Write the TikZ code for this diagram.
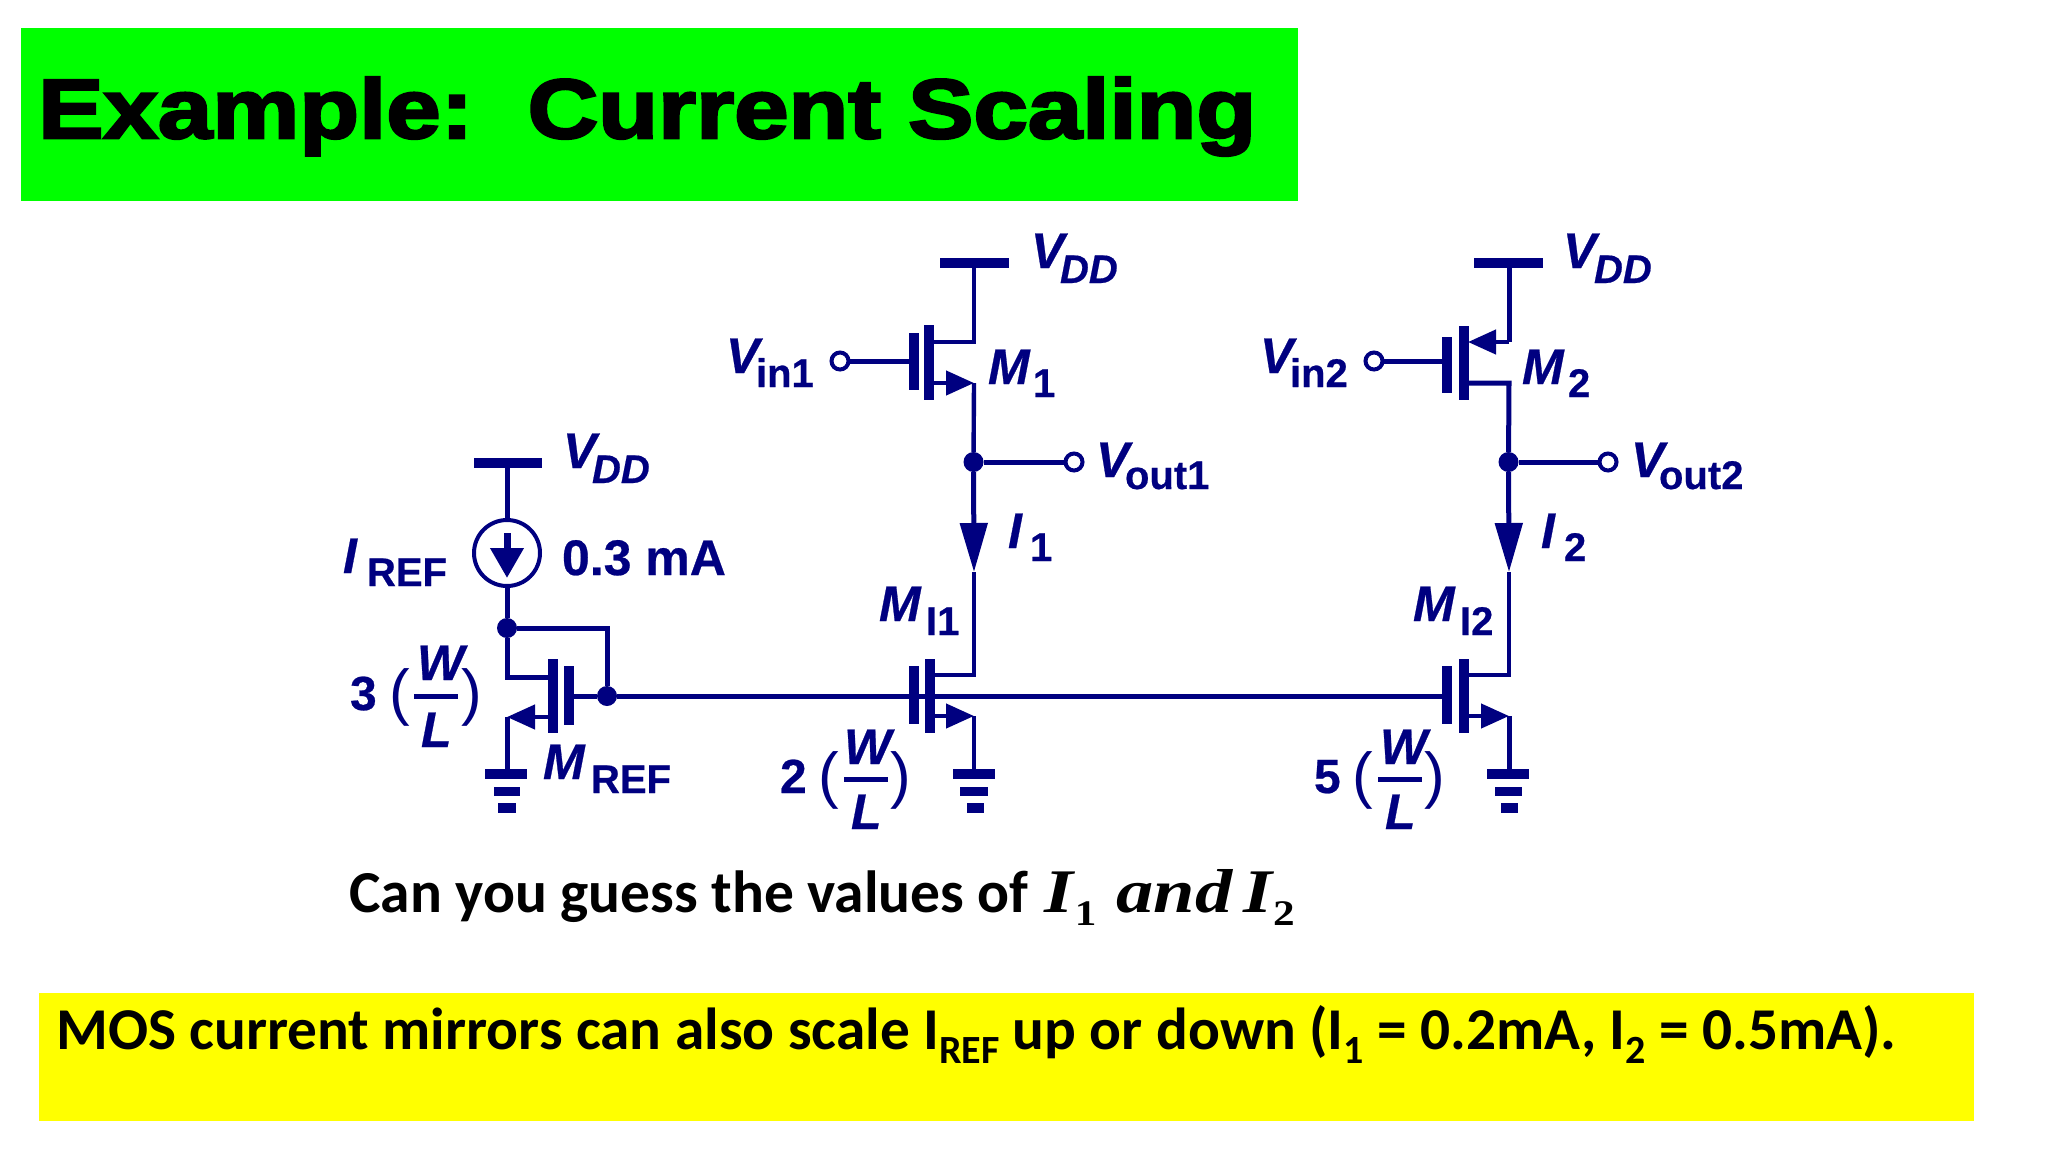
\documentclass[tikz,border=0pt]{standalone}
\usepackage{fontspec}
\usetikzlibrary{arrows.meta}
\setmainfont{Liberation Sans}[BoldFeatures={FakeBold=0.5},BoldItalicFeatures={FakeBold=0.5}]
\newfontfamily\capfont{Carlito}
\newfontfamily\mathfont{Liberation Serif}[FakeStretch=1.2]
\newfontfamily\titlefont{Liberation Sans}[BoldFeatures={FakeBold=3.2,FakeStretch=1.165}]
\definecolor{navyc}{RGB}{0,0,128}
\newcommand{\fs}[1]{\fontsize{#1}{#1}\selectfont}
\newcommand{\vv}{\fs{50}\bfseries\itshape}
\newcommand{\vs}{\fs{40}\bfseries\itshape}
\newcommand{\us}{\fs{40}\bfseries}
\newcommand{\dn}[2]{\raisebox{#1}{\fs{40}#2}}
\newcommand{\dnm}[2]{\raisebox{#1}{\fs{36}#2}}
\tikzset{
  x=1pt,y=-1pt,
  lbl/.style={inner sep=0pt,outer sep=0pt,anchor=base west,text=navyc},
  wire/.style={draw=navyc,line width=4.4pt,line cap=butt,line join=miter},
  wirethick/.style={wire,line width=5pt},
  tiparrow/.style={wire,-{Triangle[length=28pt,width=24pt]}},
  currarrow/.style={wirethick,-{Triangle[length=49pt,width=27pt]}},
  srcplate/.style={draw=navyc,line width=10pt},
  railbar/.style={draw=navyc,line width=9.5pt},
  ratiobar/.style={draw=navyc,line width=5pt},
  dotnode/.style={circle,fill=navyc,minimum size=20pt,inner sep=0pt,outer sep=0pt},
  portnode/.style={circle,draw=navyc,line width=4pt,fill=white,minimum size=17pt,inner sep=0pt,outer sep=0pt},
  csnode/.style={circle,draw=navyc,line width=4pt,fill=white,minimum size=66pt,inner sep=0pt,outer sep=0pt},
}
\begin{document}
\begin{tikzpicture}
\useasboundingbox (0,0) rectangle (2048,1152);
\fill[white] (0,0) rectangle (2048,1152);
% banners
\fill[fill={rgb,255:red,0;green,255;blue,0}] (21,28) rectangle (1298,201);
\fill[fill={rgb,255:red,255;green,255;blue,0}] (39,993) rectangle (1974,1121);
\node[inner sep=0pt,anchor=base west,text=black] (title) at (38,138) {\titlefont\fs{84}\bfseries Example:\ \ Current Scaling};
\node[inner sep=0pt,anchor=base west,text=black] (question) at (349,912) {\capfont\fs{59.5}\bfseries Can you guess the values of {\kern3pt\mathfont\fs{62}\itshape I\kern1pt\dnm{-13pt}{\upshape 1}\kern20pt and\kern11pt I\kern1pt\dnm{-13pt}{\upshape 2}}};
\node[inner sep=0pt,anchor=base west,text=black] (note) at (56,1049) {\capfont\fs{59.3}\bfseries MOS current mirrors can also scale I\dn{-14pt}{REF} up or down (I\dn{-14pt}{1} = 0.2mA, I\dn{-14pt}{2} = 0.5mA).};

% ---------- reference branch
\coordinate (vddR) at (507,463);
\draw[railbar] (474,463) -- (542,463);
\node[csnode] (cs) at (507,553) {};
\node[dotnode] (dR) at (507,628) {};
\node[dotnode] (gR) at (607,696) {};
\coordinate (dRc) at (507,677);
\coordinate (dRp) at (551,677);
\coordinate (sRp) at (551,717);
\coordinate (sR) at (507,717);
\coordinate (gRp) at (574,696);
\coordinate (dRup) at (607,628);
\coordinate (gndR) at (507,771);
\draw[wirethick] (vddR) -- (cs.north);
\draw[wirethick] (cs.south) -- (dR);
\draw[wirethick] (dR) -- (dRc) -- (dRp);
\draw[wirethick] (dR) -- (dRup) -- (gR);
\draw[wirethick] (gR) -- (gRp);
\draw[srcplate] (552.5,659) -- (552.5,733);
\draw[srcplate] (569,666) -- (569,725);
\draw[tiparrow] (sRp) -- (sR);
\draw[wirethick] (sR) -- (gndR);
\coordinate (aTop) at (507,533);
\coordinate (aTip) at (507,578);
\draw[wire,line width=7pt,-{Triangle[length=30pt,width=32pt]}] (aTop) -- (aTip);
\draw[railbar] (485,774) -- (527,774);
\draw[railbar] (494,791.5) -- (520,791.5);
\draw[railbar] (498,808) -- (516,808);

% ---------- M1 / MI1 column
\coordinate (vdd1) at (974,263);
\draw[railbar] (940,263) -- (1009,263);
\coordinate (d1) at (974,342);
\coordinate (d1p) at (934,342);
\coordinate (s1p) at (934,383);
\coordinate (s1) at (974,383);
\node[portnode] (in1) at (840,361) {};
\coordinate (g1) at (915,361);
\node[dotnode] (o1) at (973.5,462) {};
\node[portnode] (out1) at (1074,462) {};
\coordinate (i1tip) at (974,572);
\coordinate (dI1) at (974,675);
\coordinate (dI1p) at (933,675);
\coordinate (sI1p) at (933,716);
\coordinate (sI1) at (974,716);
\coordinate (gnd1) at (974,771);
\draw[wire] (vdd1) -- (d1) -- (d1p);
\draw[wirethick] (in1) -- (g1);
\draw[srcplate] (929,325) -- (929,400);
\draw[srcplate] (913.5,333) -- (913.5,390);
\draw[tiparrow] (s1p) -- (s1);
\draw[wire] (s1) -- (o1);
\draw[wirethick] (o1) -- (out1);
\draw[currarrow] (o1) -- (i1tip);
\draw[wire] (i1tip) -- (dI1) -- (dI1p);
\draw[srcplate] (930,659) -- (930,733);
\draw[srcplate] (913.5,666) -- (913.5,724);
\draw[tiparrow] (sI1p) -- (sI1);
\draw[wire] (sI1) -- (gnd1);
\draw[railbar] (953,774) -- (995,774);
\draw[railbar] (960,791.5) -- (987.5,791.5);
\draw[railbar] (967,808) -- (984,808);

% ---------- M2 / MI2 column
\coordinate (vdd2) at (1509,263);
\draw[railbar] (1474,263) -- (1543,263);
\coordinate (s2) at (1509,342);
\coordinate (s2tip) at (1468,342);
\coordinate (d2) at (1509,383);
\coordinate (d2p) at (1466,383);
\node[portnode] (in2) at (1374,361) {};
\coordinate (g2) at (1448,361);
\node[dotnode] (o2) at (1508.5,462) {};
\node[portnode] (out2) at (1608,462) {};
\coordinate (i2tip) at (1509,572);
\coordinate (dI2) at (1509,675);
\coordinate (dI2p) at (1467,675);
\coordinate (sI2p) at (1467,716);
\coordinate (sI2) at (1509,716);
\coordinate (gnd2) at (1509,771);
\draw[wirethick] (vdd2) -- (s2);
\draw[tiparrow] (s2) -- (s2tip);
\draw[wirethick] (in2) -- (g2);
\draw[srcplate] (1463.5,326) -- (1463.5,400);
\draw[srcplate] (1447,337) -- (1447,393);
\draw[wirethick] (d2p) -- (d2) -- (o2);
\draw[wirethick] (o2) -- (out2);
\draw[currarrow] (o2) -- (i2tip);
\draw[wire] (i2tip) -- (dI2) -- (dI2p);
\draw[srcplate] (1463.5,659) -- (1463.5,733);
\draw[srcplate] (1447,666) -- (1447,724);
\draw[tiparrow] (sI2p) -- (sI2);
\draw[wirethick] (sI2) -- (gnd2);
\draw[railbar] (1487,774) -- (1529,774);
\draw[railbar] (1495,791.5) -- (1522,791.5);
\draw[railbar] (1501,808) -- (1518,808);

% common gate line
\coordinate (gI2) at (1447,696);
\draw[wirethick] (gR) -- (gI2);

% ---------- labels
\node[lbl] (vddRv) at (563,468) {\vv V};
\node[lbl] (vddRs) at (592,483) {\vs DD};
\node[lbl] (vdd1v) at (1031,268) {\vv V};
\node[lbl] (vdd1s) at (1060,283) {\vs DD};
\node[lbl] (vdd2v) at (1563,268) {\vv V};
\node[lbl] (vdd2s) at (1594,283) {\vs DD};
\node[lbl] (vin1v) at (726,373) {\vv V};
\node[lbl] (vin1s) at (756,387) {\us in1};
\node[lbl] (vin2v) at (1260,373) {\vv V};
\node[lbl] (vin2s) at (1290,387) {\us in2};
\node[lbl] (m1m) at (988,384) {\vv M};
\node[lbl] (m1s) at (1033,397) {\us 1};
\node[lbl] (m2m) at (1522,384) {\vv M};
\node[lbl] (m2s) at (1568,397) {\us 2};
\node[lbl] (vout1v) at (1096,477) {\vv V};
\node[lbl] (vout1s) at (1125,489) {\us out1};
\node[lbl] (vout2v) at (1631,477) {\vv V};
\node[lbl] (vout2s) at (1659,489) {\us out2};
\node[lbl] (i1l) at (1008,548) {\vv I};
\node[lbl] (i1s) at (1030,561) {\us 1};
\node[lbl] (i2l) at (1541,548) {\vv I};
\node[lbl] (i2s) at (1564,561) {\us 2};
\node[lbl] (mi1m) at (879,621) {\vv M};
\node[lbl] (mi1s) at (926,635) {\us I1};
\node[lbl] (mi2m) at (1413,621) {\vv M};
\node[lbl] (mi2s) at (1460,635) {\us I2};
\node[lbl] (irefi) at (343,573) {\vv I};
\node[lbl] (irefs) at (367,586) {\us REF};
\node[lbl] (val) at (562,575) {\fs{50}\bfseries 0.3 mA};
\node[lbl] (mrefm) at (543,779) {\vv M};
\node[lbl] (mrefs) at (591,793) {\us REF};
% ratios
\node[lbl] (r3) at (350,710) {\fs{48}\bfseries 3};
\node[lbl] (r3a) at (389,713) {\fs{62}(};
\node[lbl] (r3w) at (417,680) {\vv W};
\draw[ratiobar] (414,696) -- (458,696);
\node[lbl] (r3l) at (421,747) {\vv L};
\node[lbl] (r3b) at (461,713) {\fs{62})};
\node[lbl] (r2) at (780,793) {\fs{48}\bfseries 2};
\node[lbl] (r2a) at (818,796) {\fs{62}(};
\node[lbl] (r2w) at (844,764) {\vv W};
\draw[ratiobar] (844,779) -- (888,779);
\node[lbl] (r2l) at (851,829) {\vv L};
\node[lbl] (r2b) at (890,796) {\fs{62})};
\node[lbl] (r5) at (1314,793) {\fs{48}\bfseries 5};
\node[lbl] (r5a) at (1352,796) {\fs{62}(};
\node[lbl] (r5w) at (1380,764) {\vv W};
\draw[ratiobar] (1378,779) -- (1422,779);
\node[lbl] (r5l) at (1385,829) {\vv L};
\node[lbl] (r5b) at (1424,796) {\fs{62})};
\end{tikzpicture}
\end{document}
